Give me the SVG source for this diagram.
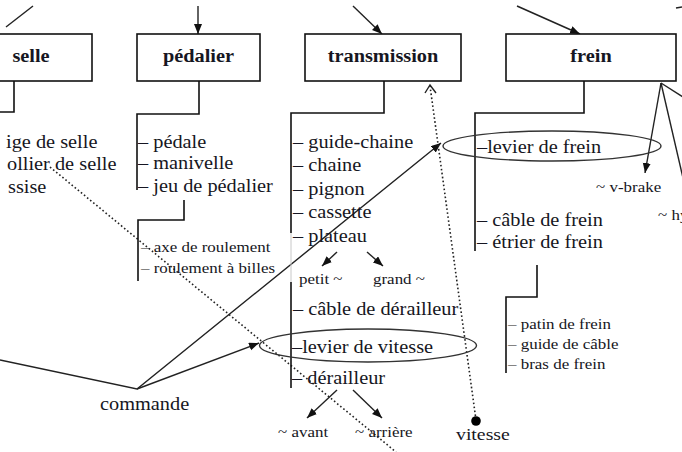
<svg xmlns="http://www.w3.org/2000/svg" width="682" height="452" viewBox="0 0 682 452">
  <style>
    .box { fill: #fff; stroke: #111; stroke-width: 1.6; }
    .ln { fill: none; stroke: #222; stroke-width: 1.4; }
    .br { fill: none; stroke: #111; stroke-width: 1.6; }
    .dot { fill: none; stroke: #222; stroke-width: 1.6; stroke-dasharray: 1.6 2.4; }
    .ell { fill: none; stroke: #333; stroke-width: 1.4; }
    text { font-family: "Liberation Serif", "Times New Roman", serif; fill: #161622; }
    .lbl { font-size: 18px; font-weight: bold; text-anchor: middle; }
    .it { font-size: 18px; }
    .sm { font-size: 15px; }
  </style>
  <defs>
    <marker id="ah" markerUnits="userSpaceOnUse" markerWidth="11" markerHeight="9" refX="10" refY="4" orient="auto">
      <path d="M0,0 L10,4 L0,8 z" fill="#111"/>
    </marker>
  </defs>

  <rect width="682" height="452" fill="#fff"/>

  <!-- connectors -->
  <g id="connectors">
    <!-- incoming links at the top -->
    <line class="ln" x1="6" y1="27" x2="33" y2="6"/>
    <line class="ln" x1="198" y1="6" x2="198" y2="34" marker-end="url(#ah)"/>
    <line class="ln" x1="353" y1="6" x2="382" y2="34" marker-end="url(#ah)"/>
    <line class="ln" x1="517" y1="6" x2="580" y2="34" marker-end="url(#ah)"/>
    <line class="ln" x1="676" y1="8" x2="682" y2="7"/>

    <!-- brake variants -->
    <line class="ln" x1="661" y1="83" x2="645" y2="173" marker-end="url(#ah)"/>
    <line class="ln" x1="661" y1="83" x2="683" y2="178"/>
    <line class="ln" x1="661" y1="83" x2="683" y2="97"/>

    <!-- plateau / derailleur variants -->
    <line class="ln" x1="337" y1="252" x2="322" y2="266" marker-end="url(#ah)"/>
    <line class="ln" x1="367" y1="252" x2="383" y2="266" marker-end="url(#ah)"/>
    <line class="ln" x1="337" y1="390" x2="307" y2="418" marker-end="url(#ah)"/>
    <line class="ln" x1="353" y1="390" x2="382" y2="418" marker-end="url(#ah)"/>

    <!-- commande links -->
    <polyline class="ln" points="0,360 137,389 441,143" marker-end="url(#ah)"/>
    <line class="ln" x1="137" y1="389" x2="259" y2="343" marker-end="url(#ah)"/>

    <!-- dotted relations -->
    <line class="dot" x1="50" y1="167" x2="396" y2="452"/>
    <line class="dot" x1="476" y1="420" x2="430" y2="86"/>
    <polyline class="ln" points="425,93 430,85 436,93" stroke-width="1.8"/>
    <circle cx="476" cy="421" r="4.8" fill="#000"/>
  </g>

  <!-- selle -->
  <g id="node-selle">
    <rect class="box" x="-2" y="34" width="94" height="47"/>
    <text class="lbl" transform="translate(31,62) scale(1.13,1)">selle</text>
    <polyline class="br" points="14,81 14,112 0,112"/>
    <text class="it" transform="translate(6,148) scale(1.13,1)">ige de selle</text>
    <text class="it" transform="translate(7,170) scale(1.13,1)">ollier de selle</text>
    <text class="it" transform="translate(8,193) scale(1.13,1)">ssise</text>
  </g>

  <!-- pédalier -->
  <g id="node-pedalier">
    <rect class="box" x="137" y="34" width="123" height="47"/>
    <text class="lbl" transform="translate(198.5,62) scale(1.13,1)">pédalier</text>
    <polyline class="br" points="199,81 199,114 137,114 137,190"/>
    <text class="it" transform="translate(138,148) scale(1.13,1)">– pédale</text>
    <text class="it" transform="translate(138,169) scale(1.13,1)">– manivelle</text>
    <text class="it" transform="translate(138,192) scale(1.13,1)">– jeu de pédalier</text>
  </g>

  <!-- jeu de pédalier -->
  <g id="node-jeu-pedalier">
    <polyline class="br" points="184,200 184,220 138,220 138,281"/>
    <text class="sm" transform="translate(141,252) scale(1.13,1)">– axe de roulement</text>
    <text class="sm" transform="translate(141,273) scale(1.13,1)">– roulement à billes</text>
  </g>

  <!-- transmission -->
  <g id="node-transmission">
    <rect class="box" x="305" y="34" width="156" height="47"/>
    <text class="lbl" transform="translate(383,62) scale(1.13,1)">transmission</text>
    <polyline class="br" points="384,81 384,113 291,113 291,233"/>
    <line x1="291" y1="233" x2="291" y2="282" stroke="#c8c8c8" stroke-width="1"/>
    <text class="it" transform="translate(293,148) scale(1.13,1)">– guide-chaine</text>
    <text class="it" transform="translate(293,171) scale(1.13,1)">– chaine</text>
    <text class="it" transform="translate(293,195) scale(1.13,1)">– pignon</text>
    <text class="it" transform="translate(293,218) scale(1.13,1)">– cassette</text>
    <text class="it" transform="translate(293,242) scale(1.13,1)">– plateau</text>
    <text class="sm" transform="translate(299,284) scale(1.13,1)">petit ~</text>
    <text class="sm" transform="translate(373,284) scale(1.13,1)">grand ~</text>
    <line class="br" x1="291" y1="282" x2="291" y2="388"/>
    <text class="it" transform="translate(293,315) scale(1.13,1)">– câble de dérailleur</text>
    <text class="it" transform="translate(292,353) scale(1.13,1)">–levier de vitesse</text>
    <text class="it" transform="translate(292,384) scale(1.13,1)">– dérailleur</text>
    <text class="sm" transform="translate(278,437) scale(1.13,1)">~ avant</text>
    <text class="sm" transform="translate(355,437) scale(1.13,1)">~ arrière</text>
  </g>

  <!-- frein -->
  <g id="node-frein">
    <rect class="box" x="506" y="34" width="170" height="47"/>
    <text class="lbl" transform="translate(591,62) scale(1.13,1)">frein</text>
    <polyline class="br" points="584,81 584,113 475,113 475,251"/>
    <text class="it" transform="translate(477,153) scale(1.13,1)">–levier de frein</text>
    <text class="it" transform="translate(477,226) scale(1.13,1)">– câble de frein</text>
    <text class="it" transform="translate(477,248) scale(1.13,1)">– étrier de frein</text>
    <text class="sm" transform="translate(596,192) scale(1.13,1)">~ v-brake</text>
    <text class="sm" transform="translate(658,220) scale(1.13,1)">~ hy</text>
  </g>

  <!-- étrier de frein -->
  <g id="node-etrier">
    <polyline class="br" points="537,265 537,297 506,297 506,373"/>
    <text class="sm" transform="translate(508,329) scale(1.13,1)">– patin de frein</text>
    <text class="sm" transform="translate(508,349) scale(1.13,1)">– guide de câble</text>
    <text class="sm" transform="translate(508,369) scale(1.13,1)">– bras de frein</text>
  </g>

  <!-- highlighted levers -->
  <g id="node-levier-frein">
    <ellipse class="ell" cx="552" cy="146" rx="109" ry="15"/>
  </g>
  <g id="node-levier-vitesse">
    <ellipse class="ell" cx="368" cy="345.5" rx="108.5" ry="16.5"/>
  </g>

  <!-- commande -->
  <g id="node-commande">
    <text class="it" transform="translate(100,410) scale(1.13,1)">commande</text>
  </g>

  <!-- vitesse -->
  <g id="node-vitesse">
    <text class="it" transform="translate(456,440) scale(1.13,1)" style="font-size:17.5px">vitesse</text>
  </g>
</svg>
